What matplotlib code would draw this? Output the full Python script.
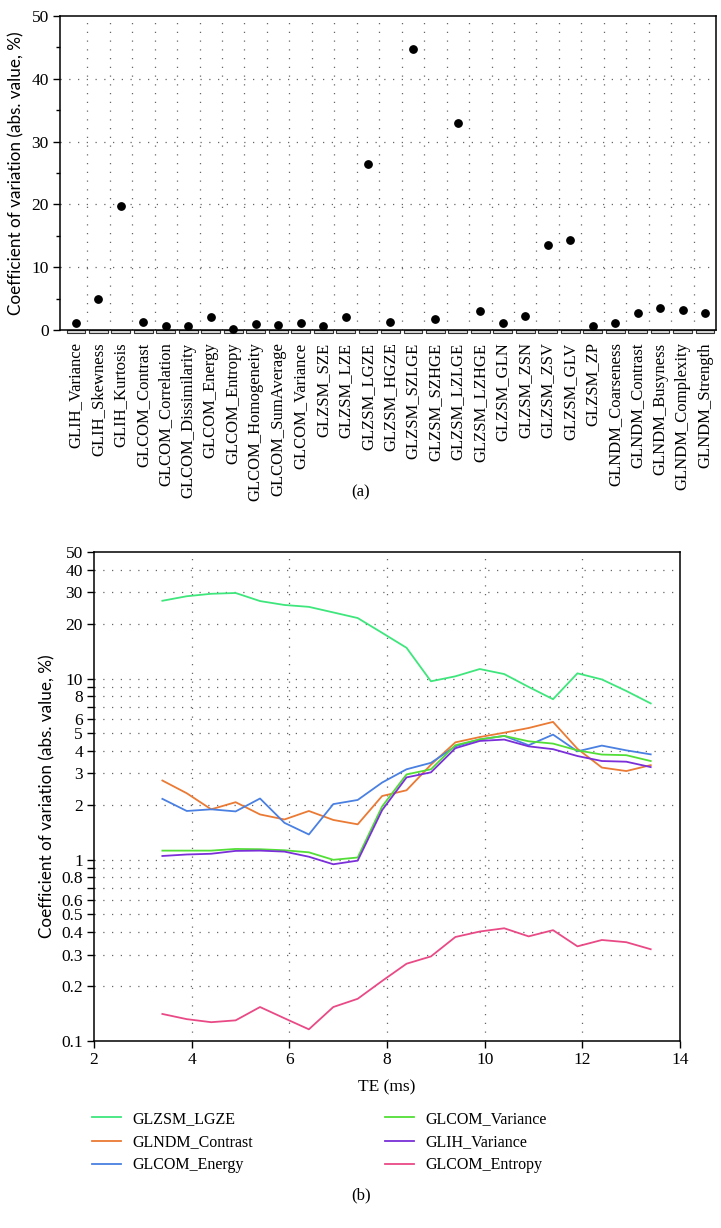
import matplotlib
matplotlib.use("Agg")
import matplotlib.pyplot as plt
from matplotlib.patches import Rectangle
from matplotlib.transforms import blended_transform_factory

SERIF = ['Liberation Serif', 'DejaVu Serif']
SANS = ['Lato', 'DejaVu Sans']

# ---------------- data (a) ----------------
features = ["GLIH_Variance", "GLIH_Skewness", "GLIH_Kurtosis", "GLCOM_Contrast",
            "GLCOM_Correlation", "GLCOM_Dissimilarity", "GLCOM_Energy", "GLCOM_Entropy",
            "GLCOM_Homogeneity", "GLCOM_SumAverage", "GLCOM_Variance", "GLZSM_SZE",
            "GLZSM_LZE", "GLZSM_LGZE", "GLZSM_HGZE", "GLZSM_SZLGE", "GLZSM_SZHGE",
            "GLZSM_LZLGE", "GLZSM_LZHGE", "GLZSM_GLN", "GLZSM_ZSN", "GLZSM_ZSV",
            "GLZSM_GLV", "GLZSM_ZP", "GLNDM_Coarseness", "GLNDM_Contrast",
            "GLNDM_Busyness", "GLNDM_Complexity", "GLNDM_Strength"]
cv_values = [1.1, 4.9, 19.8, 1.3, 0.65, 0.6, 2.1, 0.15, 1.0, 0.75, 1.1, 0.7,
             2.05, 26.5, 1.2, 44.8, 1.8, 32.9, 3.0, 1.05, 2.3, 13.6, 14.3, 0.7,
             1.1, 2.65, 3.45, 3.2, 2.75]

# ---------------- data (b) ----------------
te_ms = [3.4, 3.9, 4.4, 4.9, 5.4, 5.9, 6.4, 6.9, 7.4, 7.9, 8.4, 8.9, 9.4, 9.9,
         10.4, 10.9, 11.4, 11.9, 12.4, 12.9, 13.4]
glzsm_lgze = [26.9, 28.5, 29.4, 29.7, 26.8, 25.5, 24.9, 23.2, 21.6, 17.9, 14.8,
              9.67, 10.3, 11.3, 10.6, 9.0, 7.7, 10.7, 9.9, 8.55, 7.3]
glndm_contrast = [2.74, 2.33, 1.90, 2.08, 1.78, 1.67, 1.86, 1.66, 1.57, 2.25,
                  2.42, 3.35, 4.45, 4.76, 5.03, 5.34, 5.77, 4.1, 3.23, 3.09, 3.33]
glcom_energy = [2.17, 1.86, 1.90, 1.85, 2.18, 1.60, 1.38, 2.03, 2.14, 2.67, 3.16,
                3.43, 4.23, 4.62, 4.83, 4.29, 4.91, 3.97, 4.27, 4.02, 3.82]
glcom_variance = [1.124, 1.124, 1.124, 1.148, 1.144, 1.129, 1.10, 1.0, 1.03, 1.97,
                  2.96, 3.16, 4.29, 4.62, 4.83, 4.51, 4.38, 4.02, 3.81, 3.78, 3.51]
glih_variance = [1.05, 1.07, 1.08, 1.12, 1.124, 1.11, 1.04, 0.945, 0.99, 1.88,
                 2.85, 3.04, 4.13, 4.53, 4.61, 4.23, 4.08, 3.74, 3.51, 3.48, 3.25]
glcom_entropy = [0.141, 0.132, 0.127, 0.130, 0.154, 0.1335, 0.116, 0.154, 0.171,
                 0.2145, 0.267, 0.293, 0.375, 0.402, 0.419, 0.378, 0.409, 0.333,
                 0.361, 0.351, 0.321]

series_names = ["GLZSM_LGZE", "GLNDM_Contrast", "GLCOM_Energy",
                "GLCOM_Variance", "GLIH_Variance", "GLCOM_Entropy"]
series_values = [glzsm_lgze, glndm_contrast, glcom_energy,
                 glcom_variance, glih_variance, glcom_entropy]
series_colors = ["#3ee67c", "#ea7a34", "#4a80e2", "#52de36", "#7a2fd8", "#e94a86"]

log_ticks = [0.1, 0.2, 0.3, 0.4, 0.5, 0.6, 0.7, 0.8, 0.9, 1, 2, 3, 4, 5, 6, 7, 8,
             9, 10, 20, 30, 40, 50]
log_labels = ["0.1", "0.2", "0.3", "0.4", "0.5", "0.6", "", "0.8", "", "1", "2",
              "3", "4", "5", "6", "", "8", "", "10", "20", "30", "40", "50"]

W, H = 721, 1228
fig = plt.figure(figsize=(W / 100, H / 100), dpi=100)
fig.patch.set_facecolor('white')

def fx(px):
    return px / W

def fy(py):
    return 1 - py / H

GRID_KW = dict(color='#666666', lw=0.9, linestyle=(0, (1, 6)), zorder=0)

# ---------------- panel (a) ----------------
axa = fig.add_axes([fx(60), fy(330), fx(716) - fx(60), fy(16) - fy(330)])
n = len(features)
xs = list(range(n))
axa.scatter(xs, cv_values, s=28, color='black', zorder=3, clip_on=False)
axa.set_xlim(-0.71, n - 1 + 0.49)
axa.set_ylim(0, 50)
axa.set_yticks([0, 10, 20, 30, 40, 50])
axa.set_yticks([5, 15, 25, 35, 45], minor=True)
axa.set_yticklabels(["0", "10", "20", "30", "40", "50"], family=SERIF, fontsize=12.5)
axa.tick_params(axis='y', which='major', direction='out', length=5, width=1.0, pad=3)
axa.tick_params(axis='y', which='minor', direction='out', length=3, width=1.0)
axa.set_xticks(xs)
axa.set_xticklabels(features, rotation=90, family=SERIF, fontsize=12)
axa.tick_params(axis='x', length=0, pad=9)
for v in [10, 20, 30, 40]:
    axa.axhline(v, **GRID_KW)
for i in range(n - 1):
    axa.axvline(i + 0.5, **GRID_KW)
for s in axa.spines.values():
    s.set_linewidth(1.1)
trans = blended_transform_factory(axa.transData, axa.transAxes)
for i in xs:
    axa.add_patch(Rectangle((i - 0.42, -0.011), 0.84, 0.011, transform=trans,
                            clip_on=False, facecolor='#dcdcdc', edgecolor='#333333',
                            lw=0.8))
axa.set_ylabel("Coefficient of variation (abs. value, %)", family=SANS, fontsize=12.3,
               labelpad=5)
fig.text(fx(361), fy(492), "(a)", ha='center', va='center', family=SERIF, fontsize=12)

# ---------------- panel (b) ----------------
axb = fig.add_axes([fx(94), fy(1041), fx(680) - fx(94), fy(552) - fy(1041)])
lines = []
for name, vals, col in zip(series_names, series_values, series_colors):
    ln, = axb.plot(te_ms, vals, color=col, lw=1.3, label=name, zorder=3)
    lines.append(ln)
axb.set_yscale('log')
axb.set_ylim(0.1, 50)
axb.set_xlim(2, 14)
axb.set_yticks(log_ticks)
axb.set_yticklabels(log_labels, family=SERIF, fontsize=12.5)
axb.yaxis.set_minor_locator(matplotlib.ticker.NullLocator())
axb.set_xticks([2, 4, 6, 8, 10, 12, 14])
axb.set_xticklabels(["2", "4", "6", "8", "10", "12", "14"], family=SERIF, fontsize=12.5)
axb.tick_params(axis='both', direction='out', length=5, width=1.0, pad=3)
for v in log_ticks[1:-1]:
    axb.axhline(v, **GRID_KW)
for v in [4, 6, 8, 10, 12]:
    axb.axvline(v, **GRID_KW)
for s in axb.spines.values():
    s.set_linewidth(1.1)
axb.set_ylabel("Coefficient of variation (abs. value, %)", family=SANS, fontsize=12.3,
               labelpad=4)
axb.set_xlabel("TE (ms)", family=SERIF, fontsize=12.5, labelpad=8)

leg_kw = dict(loc='upper left', frameon=False, handlelength=1.8, handletextpad=0.75,
              labelspacing=0.45, borderpad=0, borderaxespad=0,
              prop={'family': SERIF, 'size': 11.5})
leg1 = fig.legend(lines[:3], series_names[:3], bbox_to_anchor=(fx(92), fy(1111)), **leg_kw)
leg2 = fig.legend(lines[3:], series_names[3:], bbox_to_anchor=(fx(385), fy(1111)), **leg_kw)

fig.text(fx(361), fy(1195), "(b)", ha='center', va='center', family=SERIF, fontsize=12)

fig.savefig("out.png", dpi=100, facecolor='white')
